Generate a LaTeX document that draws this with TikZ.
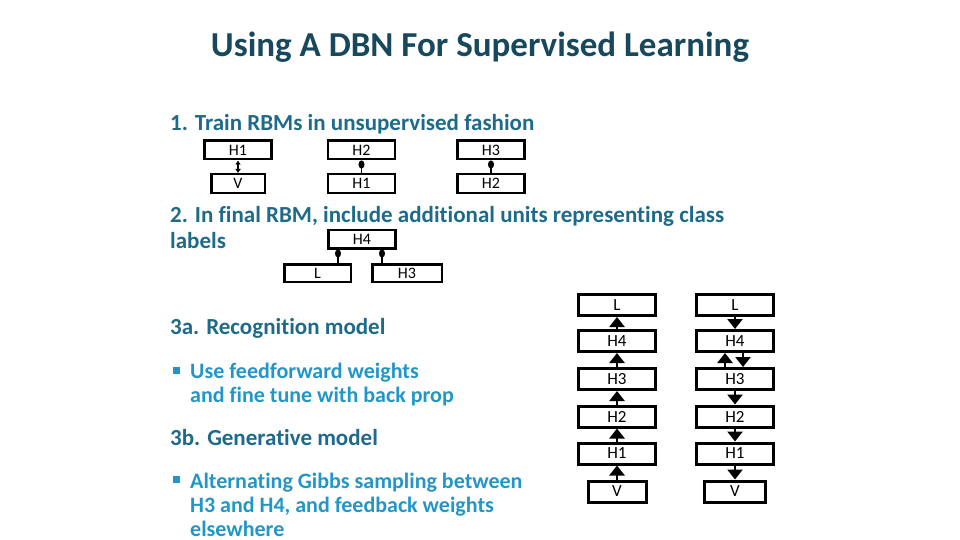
\documentclass[tikz,border=0pt]{standalone}
\usepackage{fontspec}
\setmainfont{Carlito}[Ligatures=NoCommon]
\usetikzlibrary{arrows.meta,positioning}

\definecolor{titleblue}{RGB}{23,72,92}
\definecolor{headblue}{RGB}{30,106,138}
\definecolor{bulletblue}{RGB}{34,150,200}

\tikzset{
  unitbox/.style={draw, line width=2.5pt, inner sep=0pt, minimum width=67pt, minimum height=18.5pt, font=\fontsize{16}{16}\selectfont},
  layer/.style={draw, line width=3pt, inner sep=0pt, minimum width=77pt, minimum height=21pt, font=\fontsize{17}{17}\selectfont},
  heading/.style={anchor=base west, inner sep=0pt, text=headblue, font=\fontsize{23}{27}\selectfont\bfseries},
  bullettext/.style={anchor=base west, inner sep=0pt, text=bulletblue, font=\fontsize{22}{26}\selectfont\bfseries},
  fwdarrow/.style={line width=2.5pt, -{Triangle[width=15pt,length=10pt]}},
  link/.style={line width=1.5pt, {Circle[length=8pt,width=6pt]}-},
}

\begin{document}
\begin{tikzpicture}[x=1pt,y=-1pt]
      \useasboundingbox (0,0) rectangle (960,540);

      % Title
      \node[anchor=base, inner sep=0pt, text=titleblue, font=\fontsize{35}{40}\selectfont\bfseries] (title) at (480,57) {Using A DBN For Supervised Learning};

      % Step 1: stacked RBMs
      \node[heading] (step1) at (170,131) {1. Train RBMs in unsupervised fashion};
      \node[unitbox] (sH1) at (238,150) {H1};
      \node[unitbox, minimum width=53.5pt] (sV) at (238,183.5) {V};
      \node[unitbox] (sH2) at (361.5,150) {H2};
      \node[unitbox] (sH1b) at (361.5,183.5) {H1};
      \node[unitbox] (sH3) at (491,150) {H3};
      \node[unitbox] (sH2b) at (491,183.5) {H2};
      \draw[line width=2pt, {Latex[length=4pt,width=6pt]}-{Latex[length=4pt,width=6pt]}] (sH1) -- (sV);
      \draw[link] (sH2) -- (sH1b);
      \draw[link] (sH3) -- (sH2b);

      % Step 2: final RBM with label units
      \node[heading] (step2) at (170,222.5) {2. In final RBM, include additional units representing class};
      \node[heading] (step2b) at (170,248) {labels};
      \node[unitbox] (tH4) at (362,239) {H4};
      \node[unitbox, minimum width=66.5pt, minimum height=17.5pt] (tL) at (317.5,273) {L};
      \node[unitbox, minimum width=69.5pt, minimum height=17.5pt] (tH3) at (407,273) {H3};
      \draw[link] (tH4.south -| 338,0) -- (tL.north -| 338,0);
      \draw[link] (tH4.south -| 382,0) -- (tH3.north -| 382,0);

      % Step 3: recognition and generative models
      \node[heading] (step3a) at (170,334) {3a. Recognition model};
      \fill[bulletblue] (173,367) rectangle (180,374);
      \node[bullettext] (bulA1) at (190,378) {Use feedforward weights};
      \node[bullettext] (bulA2) at (190,402) {and fine tune with back prop};
      \node[heading] (step3b) at (170,445) {3b. Generative model};
      \fill[bulletblue] (173,476) rectangle (180,483);
      \node[bullettext] (bulB1) at (190,488) {Alternating Gibbs sampling between};
      \node[bullettext] (bulB2) at (190,512) {H3 and H4, and feedback weights};
      \node[bullettext] (bulB3) at (190,536) {elsewhere};

      % The two stacks of layers
      \foreach \name/\y in {L/305, H4/341, H3/379, H2/416.5, H1/453.5} {
          \node[layer] (rec\name) at (617,\y) {\name};
          \node[layer] (gen\name) at (735,\y) {\name};
      }
      \node[layer, minimum width=58pt] (recV) at (617,491.5) {V};
      \node[layer, minimum width=61pt] (genV) at (735,491.5) {V};

      % Recognition: upward arrows
      \foreach \a/\b in {V/H1, H1/H2, H2/H3, H3/H4, H4/L}
          \draw[fwdarrow] (rec\a) -- (rec\b);

      % Generative: downward arrows, both ways between H3 and H4
      \foreach \a/\b in {L/H4, H3/H2, H2/H1, H1/V}
          \draw[fwdarrow] (gen\a) -- (gen\b);
      \draw[fwdarrow] ([xshift=-10pt]genH3.north) -- ([xshift=-10pt]genH4.south);
      \draw[fwdarrow] ([xshift=8pt]genH4.south) -- ([xshift=8pt]genH3.north);
\end{tikzpicture}
\end{document}
